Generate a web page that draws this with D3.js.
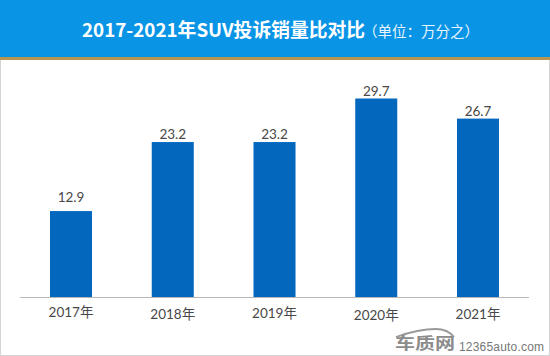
<!DOCTYPE html>
<html><head><meta charset="utf-8">
<script src="https://cdn.jsdelivr.net/npm/d3@7/dist/d3.min.js"></script>
<style>html,body{margin:0;padding:0;background:#fff}svg{display:block}</style></head>
<body><svg id="c" width="550" height="356"></svg>
<script>
const categories = ["2017年","2018年","2019年","2020年","2021年"];
const values = [12.9,23.2,23.2,29.7,26.7];
const titleMain = "2017-2021年SUV投诉销量比对比";
const titleUnit = "（单位：万分之）";
const tickNudge = [0,2,1,3,2];
const valueNudge = [-6,0,0,0,0];

const font = "'Noto Sans CJK SC','Noto Sans',sans-serif";
const labelFont = "Lato,'Noto Sans CJK SC',sans-serif";
const svg = d3.select("#c");
svg.append("rect").attr("width",550).attr("height",356).attr("fill","#fff");
svg.append("rect").attr("x",0.5).attr("y",0.5).attr("width",549).attr("height",355)
   .attr("fill","none").attr("stroke","#d4d4d4");
svg.append("rect").attr("width",550).attr("height",58).attr("fill","#0a94e6");
svg.append("rect").attr("y",57).attr("width",550).attr("height",3).attr("fill","#b8954f");

const t = svg.append("text").attr("x",82).attr("y",37).attr("font-family",font).attr("fill","#fff");
t.append("tspan").attr("font-size",18.8).attr("font-weight",700).text(titleMain);
t.append("tspan").attr("font-size",14.5).attr("fill","#e8f5fd").attr("dx",-2).text(titleUnit);

const x = d3.scaleBand().domain(categories).range([50,499]).paddingInner(0.587).paddingOuter(0);
const y = d3.scaleLinear().domain([0,29.7]).range([297.5,98.5]);

svg.selectAll("rect.bar").data(values).join("rect").attr("class","bar")
  .attr("x",(d,i)=>x(categories[i])).attr("y",d=>y(d))
  .attr("width",x.bandwidth()).attr("height",d=>y(0)-y(d)).attr("fill","#0368bd");

svg.selectAll("text.val").data(values).join("text").attr("class","val")
  .attr("x",(d,i)=>x(categories[i])+x.bandwidth()/2).attr("y",(d,i)=>y(d)-3+valueNudge[i])
  .attr("text-anchor","middle").attr("font-family",labelFont)
  .attr("font-size",13.5).attr("fill","#484848").text(d=>d.toFixed(1));

const ax = svg.append("g").attr("transform","translate(0,297)")
  .call(d3.axisBottom(x).tickSize(0).tickPadding(0));
ax.select(".domain").remove();
ax.append("line").attr("x1",20).attr("x2",529).attr("y1",0.5).attr("y2",0.5).attr("stroke","#b8b8b8").attr("stroke-width",1);
ax.selectAll(".tick text").attr("y",(d,i)=>20+tickNudge[i]).attr("dy",0)
  .attr("font-family",labelFont).attr("font-size",13.5).attr("fill","#484848");

const logo = svg.append("g");
logo.append("path").attr("d","M396 337 C 410 332, 425 329, 436 329 C 444 329, 450 332, 454 337")
  .attr("fill","none").attr("stroke","#9a9a9a").attr("stroke-width",1.8);
logo.append("text").attr("x",395).attr("y",349).attr("font-family",font).attr("font-weight",700)
  .attr("font-size",16).attr("fill","#8c8c8c").attr("textLength",60).attr("lengthAdjust","spacingAndGlyphs").text("车质网");
logo.append("text").attr("x",459).attr("y",351).attr("font-family","'Liberation Sans',sans-serif")
  .attr("font-size",12).attr("fill","#777").attr("textLength",85).text("12365auto.com");
</script></body></html>
